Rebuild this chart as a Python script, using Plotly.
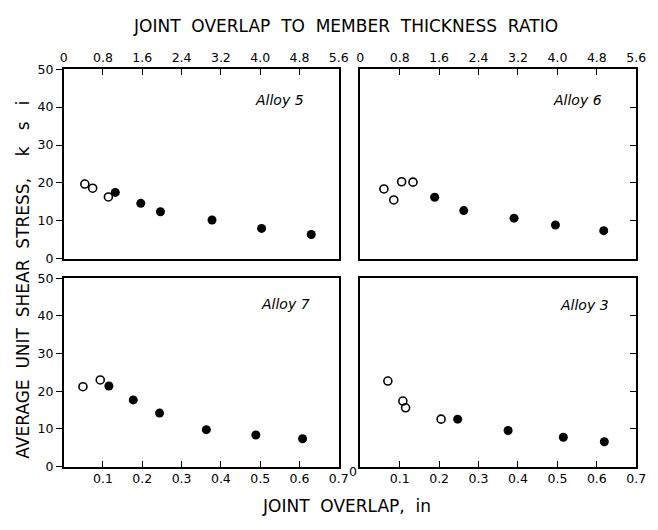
import plotly.graph_objects as go

# ---- data ----
# Top panels: x = joint overlap / member thickness ratio
alloy5_open_ratio = [0.43, 0.59, 0.91]
alloy5_open_stress = [19.7, 18.6, 16.3]
alloy5_fill_ratio = [1.05, 1.57, 1.97, 3.02, 4.03, 5.04]
alloy5_fill_stress = [17.5, 14.6, 12.4, 10.2, 8.0, 6.4]

alloy6_open_ratio = [0.48, 0.68, 0.84, 1.07]
alloy6_open_stress = [18.4, 15.5, 20.3, 20.2]
alloy6_fill_ratio = [1.51, 2.10, 3.12, 3.96, 4.94]
alloy6_fill_stress = [16.2, 12.7, 10.7, 8.9, 7.4]

# Bottom panels: x = joint overlap, in
alloy7_open_overlap = [0.049, 0.093]
alloy7_open_stress = [21.2, 23.0]
alloy7_fill_overlap = [0.115, 0.177, 0.244, 0.363, 0.489, 0.608]
alloy7_fill_stress = [21.4, 17.7, 14.2, 9.8, 8.4, 7.4]

alloy3_open_overlap = [0.070, 0.108, 0.115, 0.205]
alloy3_open_stress = [22.7, 17.4, 15.6, 12.6]
alloy3_fill_overlap = [0.247, 0.375, 0.515, 0.619]
alloy3_fill_stress = [12.6, 9.6, 7.8, 6.6]

ratio_tickvals = [0, 0.8, 1.6, 2.4, 3.2, 4.0, 4.8, 5.6]
ratio_ticktext = ["0", "0.8", "1.6", "2.4", "3.2", "4.0", "4.8", "5.6"]
overlap_tickvals = [0, 0.1, 0.2, 0.3, 0.4, 0.5, 0.6, 0.7]
overlap_ticktext = ["", "0.1", "0.2", "0.3", "0.4", "0.5", "0.6", "0.7"]
stress_tickvals = [0, 10, 20, 30, 40, 50]
stress_ticktext = ["0", "10", "20", "30", "40", "50"]

W, H = 658, 530
FONT = "DejaVu Sans"

fig = go.Figure()

open_marker = dict(symbol="circle-open", size=8, color="black", line=dict(width=1.6, color="black"))
fill_marker = dict(symbol="circle", size=9, color="black")

panels = [
    ("x", "y", alloy5_open_ratio, alloy5_open_stress, alloy5_fill_ratio, alloy5_fill_stress),
    ("x2", "y2", alloy6_open_ratio, alloy6_open_stress, alloy6_fill_ratio, alloy6_fill_stress),
    ("x3", "y3", alloy7_open_overlap, alloy7_open_stress, alloy7_fill_overlap, alloy7_fill_stress),
    ("x4", "y4", alloy3_open_overlap, alloy3_open_stress, alloy3_fill_overlap, alloy3_fill_stress),
]
for xa, ya, ox, oy, fx, fy in panels:
    fig.add_trace(go.Scatter(x=ox, y=oy, mode="markers", marker=open_marker,
                             xaxis=xa, yaxis=ya, showlegend=False, hoverinfo="skip"))
    fig.add_trace(go.Scatter(x=fx, y=fy, mode="markers", marker=fill_marker,
                             xaxis=xa, yaxis=ya, showlegend=False, hoverinfo="skip"))

# domains from pixel geometry
def px_x(a, b):
    return [a / W, b / W]

def px_y(top, bottom):
    return [1 - bottom / H, 1 - top / H]

dxL, dxR = px_x(61, 342), px_x(364, 646)
dyT, dyB = px_y(63, 258), px_y(278, 472)

tickfont = dict(family=FONT, size=12.5, color="black")
common = dict(showline=True, linecolor="black", linewidth=1.6, mirror=True,
              showgrid=False, zeroline=False, tickcolor="black", tickwidth=1.4,
              tickfont=tickfont)

fig.update_layout(
    width=W, height=H,
    margin=dict(l=0, r=0, t=0, b=0),
    paper_bgcolor="white", plot_bgcolor="white",
    font=dict(family=FONT, color="black"),
    xaxis=dict(domain=dxL, anchor="y", side="top", range=[0, 5.6],
               tickvals=ratio_tickvals, ticktext=ratio_ticktext,
               ticks="inside", ticklen=6, **common),
    yaxis=dict(domain=dyT, anchor="x", range=[0, 50],
               tickvals=stress_tickvals, ticktext=stress_ticktext,
               ticks="outside", ticklen=6, **common),
    xaxis2=dict(domain=dxR, anchor="y2", side="top", range=[0, 5.6],
                tickvals=ratio_tickvals, ticktext=ratio_ticktext,
                ticks="inside", ticklen=6, **common),
    yaxis2=dict(domain=dyT, anchor="x2", side="right", range=[0, 50],
                tickvals=stress_tickvals, showticklabels=False,
                ticks="inside", ticklen=6, **common),
    xaxis3=dict(domain=dxL, anchor="y3", range=[0, 0.7],
                tickvals=overlap_tickvals, ticktext=overlap_ticktext,
                ticks="inside", ticklen=6, **common),
    yaxis3=dict(domain=dyB, anchor="x3", range=[0, 50],
                tickvals=stress_tickvals, ticktext=stress_ticktext,
                ticks="outside", ticklen=6, **common),
    xaxis4=dict(domain=dxR, anchor="y4", range=[0, 0.7],
                tickvals=overlap_tickvals, ticktext=overlap_ticktext,
                ticks="inside", ticklen=6, **common),
    yaxis4=dict(domain=dyB, anchor="x4", side="right", range=[0, 50],
                tickvals=stress_tickvals, showticklabels=False,
                ticks="inside", ticklen=6, **common),
)

def ann(text, x, y, size=14, angle=0, italic=False):
    t = f"<i>{text}</i>" if italic else text
    fig.add_annotation(text=t, x=x / W, y=1 - y / H, xref="paper", yref="paper",
                       showarrow=False, textangle=angle,
                       font=dict(family=FONT, size=size, color="black"),
                       xanchor="center", yanchor="middle")

SP = "&nbsp;&nbsp;"
ann(SP.join(["JOINT", "OVERLAP", "TO", "MEMBER", "THICKNESS", "RATIO"]), 349, 19, size=17)
ann("JOINT" + SP + "OVERLAP," + SP + "in", 350, 512, size=17)
ann(SP.join(["AVERAGE", "UNIT", "SHEAR", "STRESS,"])
    + "&nbsp;&nbsp;&nbsp;&nbsp;k&nbsp;&nbsp;&nbsp;s&nbsp;&nbsp;&nbsp;i",
    19, 280, size=17, angle=-90)
ann("Alloy 5", 281, 95, size=14, italic=True)
ann("Alloy 6", 586, 95, size=14, italic=True)
ann("Alloy 7", 288, 305, size=14, italic=True)
ann("Alloy 3", 593, 306, size=14, italic=True)
# the x-axis zero of the lower-right panel sits just left of its corner
fig.add_annotation(text="0", x=0, y=0, xref="x4", yref="y4", showarrow=False,
                   xanchor="center", yanchor="middle", xshift=-7, yshift=-5,
                   font=dict(family=FONT, size=12.5, color="black"))

fig.write_html("out.html")
